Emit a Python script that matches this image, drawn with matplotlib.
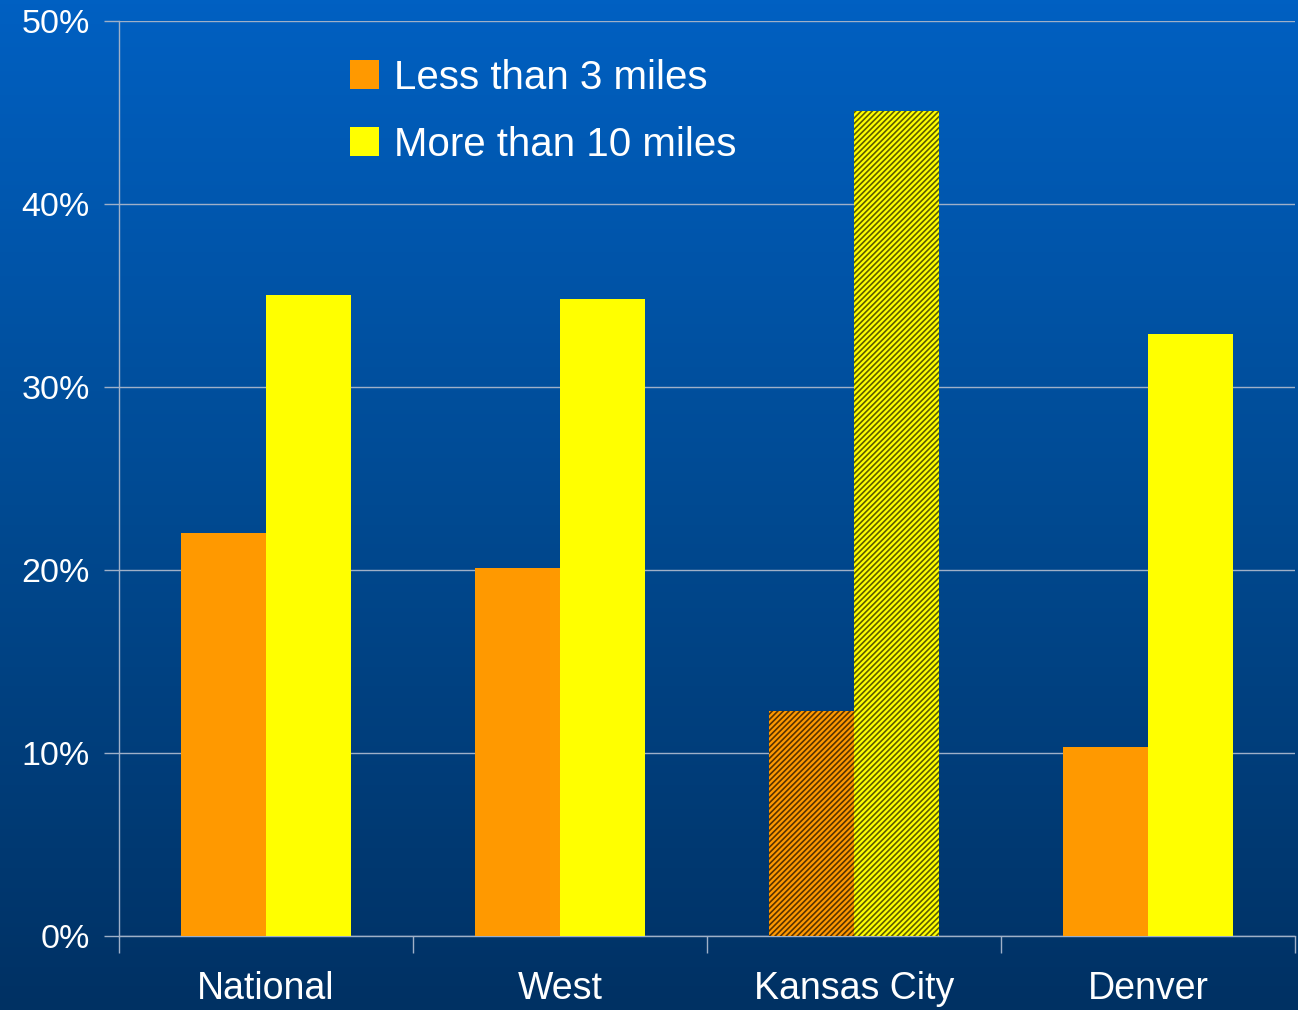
import numpy as np
import matplotlib.pyplot as plt
from matplotlib.colors import LinearSegmentedColormap
from matplotlib.patches import Patch

plt.rcParams['font.family'] = ['Liberation Sans', 'DejaVu Sans']
plt.rcParams['hatch.linewidth'] = 1.2

regions = ["National", "West", "Kansas City", "Denver"]
less_3 = [22.0, 20.1, 12.3, 10.3]
more_10 = [35.0, 34.8, 45.1, 32.9]
hatched = [False, False, True, False]
yticks = [0, 10, 20, 30, 40, 50]

fig = plt.figure(figsize=(12.98, 10.10), dpi=100)

# blue backdrop fading to navy
bg = fig.add_axes([0, 0, 1, 1], zorder=-10)
grad = LinearSegmentedColormap.from_list("bg", ["#0060c2", "#004a92", "#003163"])
bg.imshow(np.linspace(0, 1, 256).reshape(-1, 1), aspect="auto", cmap=grad,
          extent=[0, 1, 0, 1])
bg.set_axis_off()

ax = fig.add_axes([0.0917, 0.0733, 0.906, 0.906])
ax.set_facecolor("none")

x = np.arange(len(regions))
w = 0.29
grid_col = "#9fb0c8"

for i in range(len(regions)):
    if hatched[i]:
        ax.bar(x[i] - w / 2, less_3[i], w, color="#ff9900", edgecolor="#5a3300",
               linewidth=0, hatch="//////", zorder=3)
        ax.bar(x[i] + w / 2, more_10[i], w, color="#ffff00", edgecolor="#5e5e00",
               linewidth=0, hatch="//////", zorder=3)
    else:
        ax.bar(x[i] - w / 2, less_3[i], w, color="#ff9900", linewidth=0, zorder=3)
        ax.bar(x[i] + w / 2, more_10[i], w, color="#ffff00", linewidth=0, zorder=3)

ax.set_xlim(-0.5, len(regions) - 0.5)
ax.set_ylim(0, 50)
ax.set_yticks(yticks)
ax.set_yticklabels([f"{v}%" for v in yticks])
ax.yaxis.grid(True, color=grid_col, linewidth=1, zorder=0)

# category labels centred, ticks between groups
ax.set_xticks(np.arange(-0.5, len(regions), 1.0))
ax.set_xticklabels([])
ax.set_xticks(x, minor=True)
ax.set_xticklabels(regions, minor=True)
ax.tick_params(axis="x", which="major", length=12, color=grid_col, width=1, direction="out")
ax.tick_params(axis="x", which="minor", length=0, pad=25, labelsize=27, labelcolor="white")
ax.tick_params(axis="y", length=11, color=grid_col, width=1, pad=10,
               labelsize=24.5, labelcolor="white")

for side in ["top", "right"]:
    ax.spines[side].set_visible(False)
for side in ["left", "bottom"]:
    ax.spines[side].set_color(grid_col)
    ax.spines[side].set_linewidth(1)

handles = [Patch(facecolor="#ff9900"), Patch(facecolor="#ffff00")]
fig.legend(handles, ["Less than 3 miles", "More than 10 miles"],
           loc="upper left", bbox_to_anchor=(0.270, 0.942), frameon=False,
           fontsize=29, labelcolor="white", handlelength=0.72, handleheight=0.72,
           handletextpad=0.35, labelspacing=0.72, borderpad=0, borderaxespad=0)

fig.savefig("out.png", dpi=100)
